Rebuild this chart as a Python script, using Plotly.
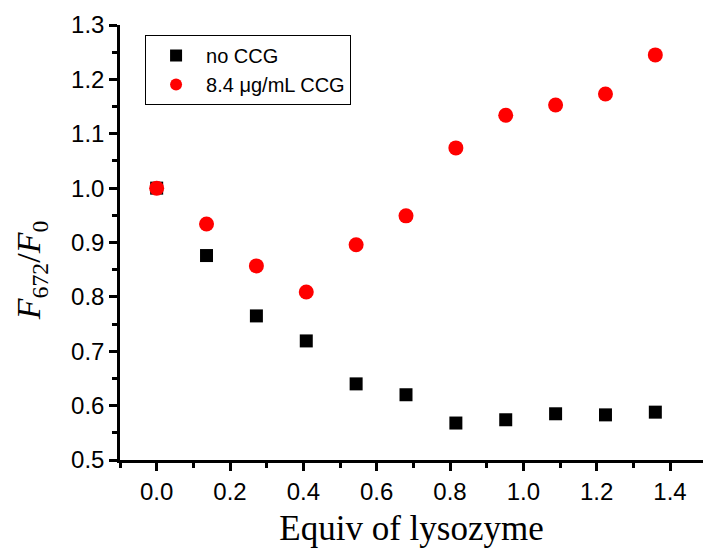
import plotly.graph_objects as go

equiv = [0, 0.136, 0.272, 0.408, 0.544, 0.68, 0.816, 0.952, 1.088, 1.224, 1.36]
no_ccg = [1.0, 0.876, 0.765, 0.719, 0.640, 0.620, 0.568, 0.574, 0.585, 0.583, 0.588]
with_ccg = [1.0, 0.934, 0.857, 0.809, 0.896, 0.949, 1.074, 1.134, 1.153, 1.173, 1.245]

fig = go.Figure()
fig.add_trace(go.Scatter(x=equiv, y=no_ccg, mode="markers", name="no CCG",
                         marker=dict(symbol="square", size=13, color="black")))
fig.add_trace(go.Scatter(x=equiv, y=with_ccg, mode="markers", name="8.4 μg/mL CCG",
                         marker=dict(symbol="circle", size=15, color="red")))

axis_common = dict(showline=True, linecolor="black", linewidth=2.5, ticks="outside",
                   ticklen=8, tickwidth=2.5, tickcolor="black", showgrid=False,
                   zeroline=False, mirror=False,
                   tickfont=dict(family="Liberation Sans, Arial", size=24, color="black"))

fig.update_xaxes(range=[-0.1, 1.49], tick0=0, dtick=0.2, tickformat=".1f",
                 minor=dict(ticks="outside", ticklen=5, tickwidth=2.5, tickcolor="black", dtick=0.1),
                 title=dict(text="Equiv of lysozyme", standoff=12,
                            font=dict(family="Liberation Serif, Times New Roman", size=35, color="black")),
                 **axis_common)
fig.update_yaxes(range=[0.5, 1.3], tick0=0.5, dtick=0.1, tickformat=".1f",
                 minor=dict(ticks="outside", ticklen=5, tickwidth=2.5, tickcolor="black", dtick=0.05),
                 **axis_common)

fig.add_annotation(text="<i>F</i><sub>672</sub>/<i>F</i><sub>0</sub>",
                   xref="paper", yref="paper", x=-0.152, y=0.437,
                   xanchor="center", yanchor="middle", textangle=-90, showarrow=False,
                   font=dict(family="Liberation Serif, Times New Roman", size=34, color="black"))

fig.update_layout(
    width=703, height=556,
    margin=dict(l=120, r=0, t=25, b=96),
    plot_bgcolor="white", paper_bgcolor="white",
    showlegend=True,
    legend=dict(x=0.043, y=0.977, xanchor="left", yanchor="top",
                bordercolor="black", borderwidth=1, bgcolor="white",
                font=dict(family="Liberation Sans, Arial", size=20, color="black"),
                tracegroupgap=0, itemsizing="constant", itemwidth=50),
)

fig.write_html("out.html")
